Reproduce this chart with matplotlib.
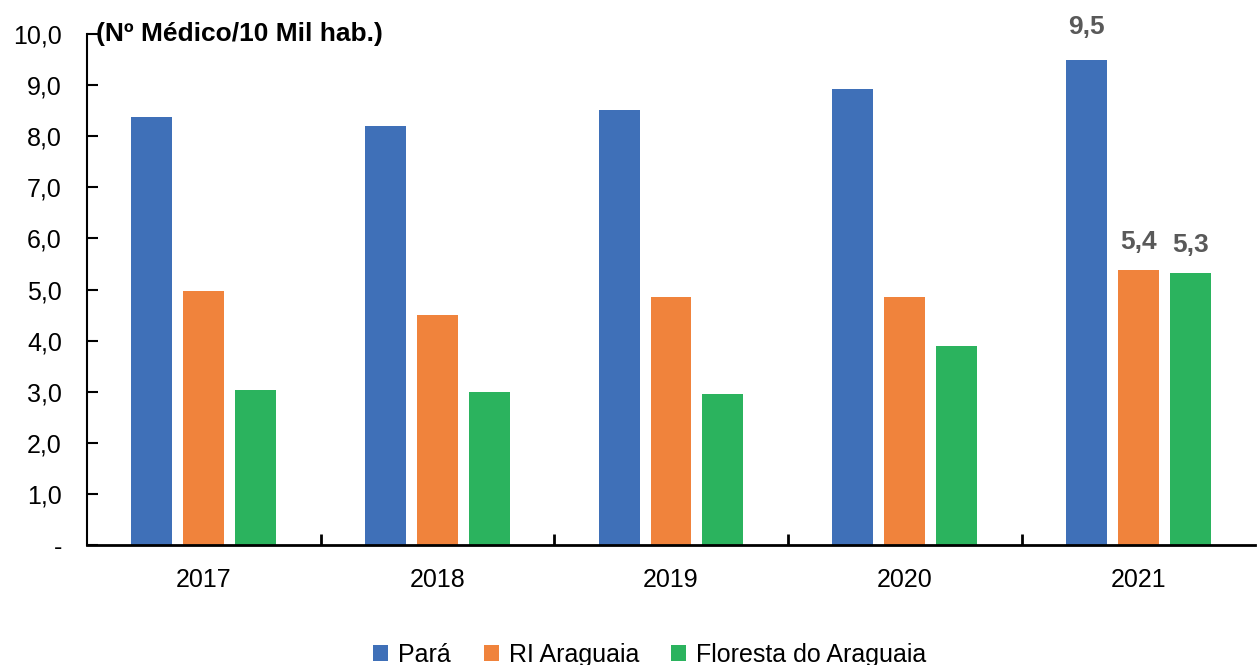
import numpy as np
import matplotlib.pyplot as plt
from matplotlib.ticker import FixedLocator

plt.rcParams['font.family'] = ['Liberation Sans Narrow', 'Liberation Sans', 'DejaVu Sans']

# dados
anos = ['2017', '2018', '2019', '2020', '2021']
para = [8.38, 8.20, 8.51, 8.92, 9.49]
ri_araguaia = [4.97, 4.50, 4.85, 4.85, 5.38]
floresta = [3.03, 2.99, 2.95, 3.89, 5.32]
nomes = ['Pará', 'RI Araguaia', 'Floresta do Araguaia']
cores = ['#3F70B8', '#F0833C', '#2BB35E']

fig = plt.figure(figsize=(12.59, 6.65), dpi=100)
ax = fig.add_axes([0.069, 0.180, 0.928, 0.769])

x = np.arange(len(anos))
w = 0.175
passo = 0.222
series = [para, ri_araguaia, floresta]
for i, (vals, nome, cor) in enumerate(zip(series, nomes, cores)):
    ax.bar(x + (i - 1) * passo, vals, w, color=cor, label=nome)

# rótulos só em 2021
desloc = [0.41, 0.32, 0.32]
for i, vals in enumerate(series):
    v = vals[-1]
    ax.text(x[-1] + (i - 1) * passo, v + desloc[i], f'{v:.1f}'.replace('.', ','),
            ha='center', va='bottom', fontsize=19, fontweight='bold', color='#595959')

ax.set_xlim(-0.5, 4.5)
ax.set_ylim(0, 10)
ax.set_yticks(np.arange(0, 11, 1))
ax.set_yticklabels(['-'] + [f'{v:.1f}'.replace('.', ',') for v in range(1, 11)])
ax.set_xticks(x)
ax.set_xticklabels(anos)
ax.xaxis.set_minor_locator(FixedLocator(np.arange(0.5, 4.5, 1)))

for s in ['top', 'right']:
    ax.spines[s].set_visible(False)
ax.spines['left'].set_linewidth(1.5)
ax.spines['bottom'].set_linewidth(2)

ax.tick_params(axis='y', direction='in', length=8, width=1.5, labelsize=18, pad=18)
ax.tick_params(axis='x', which='major', length=0, labelsize=18, pad=16)
ax.tick_params(axis='x', which='minor', direction='in', length=8, width=2)

ax.text(0.008, 1.0, '(Nº Médico/10 Mil hab.)', transform=ax.transAxes,
        fontsize=19, fontweight='bold', ha='left', va='center')

ax.legend(loc='lower center', bbox_to_anchor=(0.482, -0.272), ncol=3, frameon=False,
          fontsize=18, handlelength=0.6, handleheight=0.6, handletextpad=0.4,
          columnspacing=1.3, borderpad=0.2)

fig.savefig('out.png', dpi=100)
